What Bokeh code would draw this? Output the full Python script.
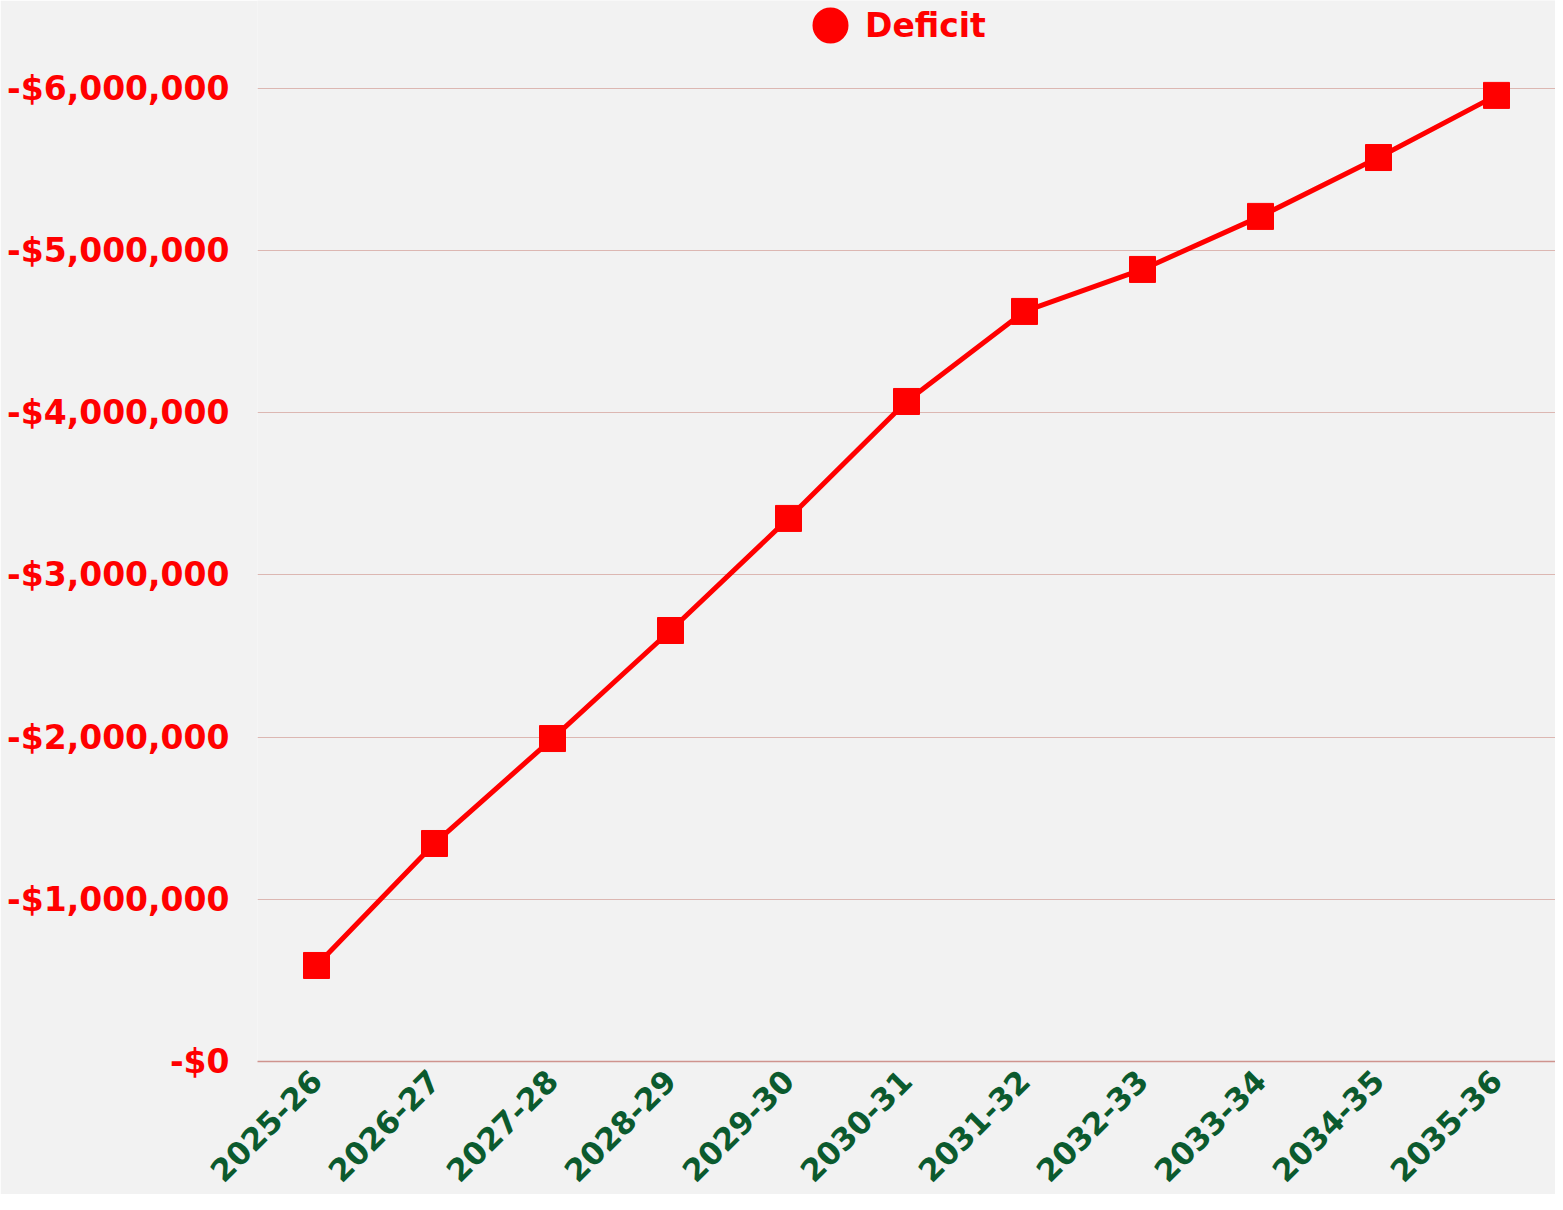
from bokeh.plotting import figure
from bokeh.models import (ColumnDataSource, FactorRange, Range1d, FixedTicker,
                          CustomJSTickFormatter, Legend, LegendItem)
from bokeh.embed import file_html
from bokeh.resources import INLINE
import math

years = ["2025-26", "2026-27", "2027-28", "2028-29", "2029-30", "2030-31",
         "2031-32", "2032-33", "2033-34", "2034-35", "2035-36"]
deficit = [592000, 1344000, 1991000, 2657000, 3348000, 4069000,
           4624000, 4883000, 5210000, 5573000, 5956000]
y_ticks = [0, 1000000, 2000000, 3000000, 4000000, 5000000, 6000000]
series_name = "Deficit"

FONT = "DejaVu Sans"
RED = "#ff0000"
GREEN = "#0b5a2e"
BG = "#f2f2f2"

src = ColumnDataSource(dict(year=years, deficit=deficit))

p = figure(width=1555, height=1194, x_range=FactorRange(factors=years),
           y_range=Range1d(0, 6541000), output_backend="svg",
           toolbar_location=None, min_border_left=257, min_border_right=0,
           min_border_top=0, min_border_bottom=133)
p.background_fill_color = BG
p.border_fill_color = BG
p.outline_line_color = None

p.line("year", "deficit", source=src, line_color=RED, line_width=5)
p.scatter("year", "deficit", source=src, marker="square", size=26,
          fill_color=RED, line_color=RED)
# hidden circle renderer: only supplies the legend's circle swatch
leg_r = p.scatter("year", "deficit", source=src, marker="circle", size=10,
                  fill_color=RED, line_color=RED, line_width=12, visible=False)

# axes
p.yaxis.ticker = FixedTicker(ticks=y_ticks)
p.yaxis.formatter = CustomJSTickFormatter(code="""
return '-$' + Math.round(tick).toString().replace(/\\B(?=(\\d{3})+(?!\\d))/g, ',');
""")
p.yaxis.axis_line_color = None
p.yaxis.major_tick_line_color = None
p.yaxis.minor_tick_line_color = None
p.yaxis.major_tick_out = 0
p.yaxis.major_label_standoff = 28
p.yaxis.major_label_text_font = FONT
p.yaxis.major_label_text_font_style = "bold"
p.yaxis.major_label_text_font_size = "33px"
p.yaxis.major_label_text_color = RED

p.xaxis.axis_line_color = "#cf948e"
p.xaxis.axis_line_width = 1.5
p.xaxis.major_tick_line_color = None
p.xaxis.minor_tick_line_color = None
p.xaxis.major_tick_out = 0
p.xaxis.major_label_standoff = 14
p.xaxis.major_label_orientation = math.pi / 4
p.xaxis.major_label_text_font = FONT
p.xaxis.major_label_text_font_style = "bold"
p.xaxis.major_label_text_font_size = "31px"
p.xaxis.major_label_text_color = GREEN

p.xgrid.grid_line_color = None
p.ygrid.grid_line_color = "#dcb7b2"
p.ygrid.grid_line_width = 1.2

legend = Legend(items=[LegendItem(label=series_name, renderers=[leg_r])],
                location=(543, 1006), orientation="horizontal",
                glyph_width=60, glyph_height=60, label_standoff=5,
                padding=0, margin=0, spacing=0,
                label_text_font=FONT, label_text_font_style="bold",
                label_text_font_size="33px", label_text_color=RED,
                background_fill_alpha=0, border_line_color=None,
                label_height=60)
p.add_layout(legend, "center")

open("out.html", "w").write(file_html(p, INLINE))
